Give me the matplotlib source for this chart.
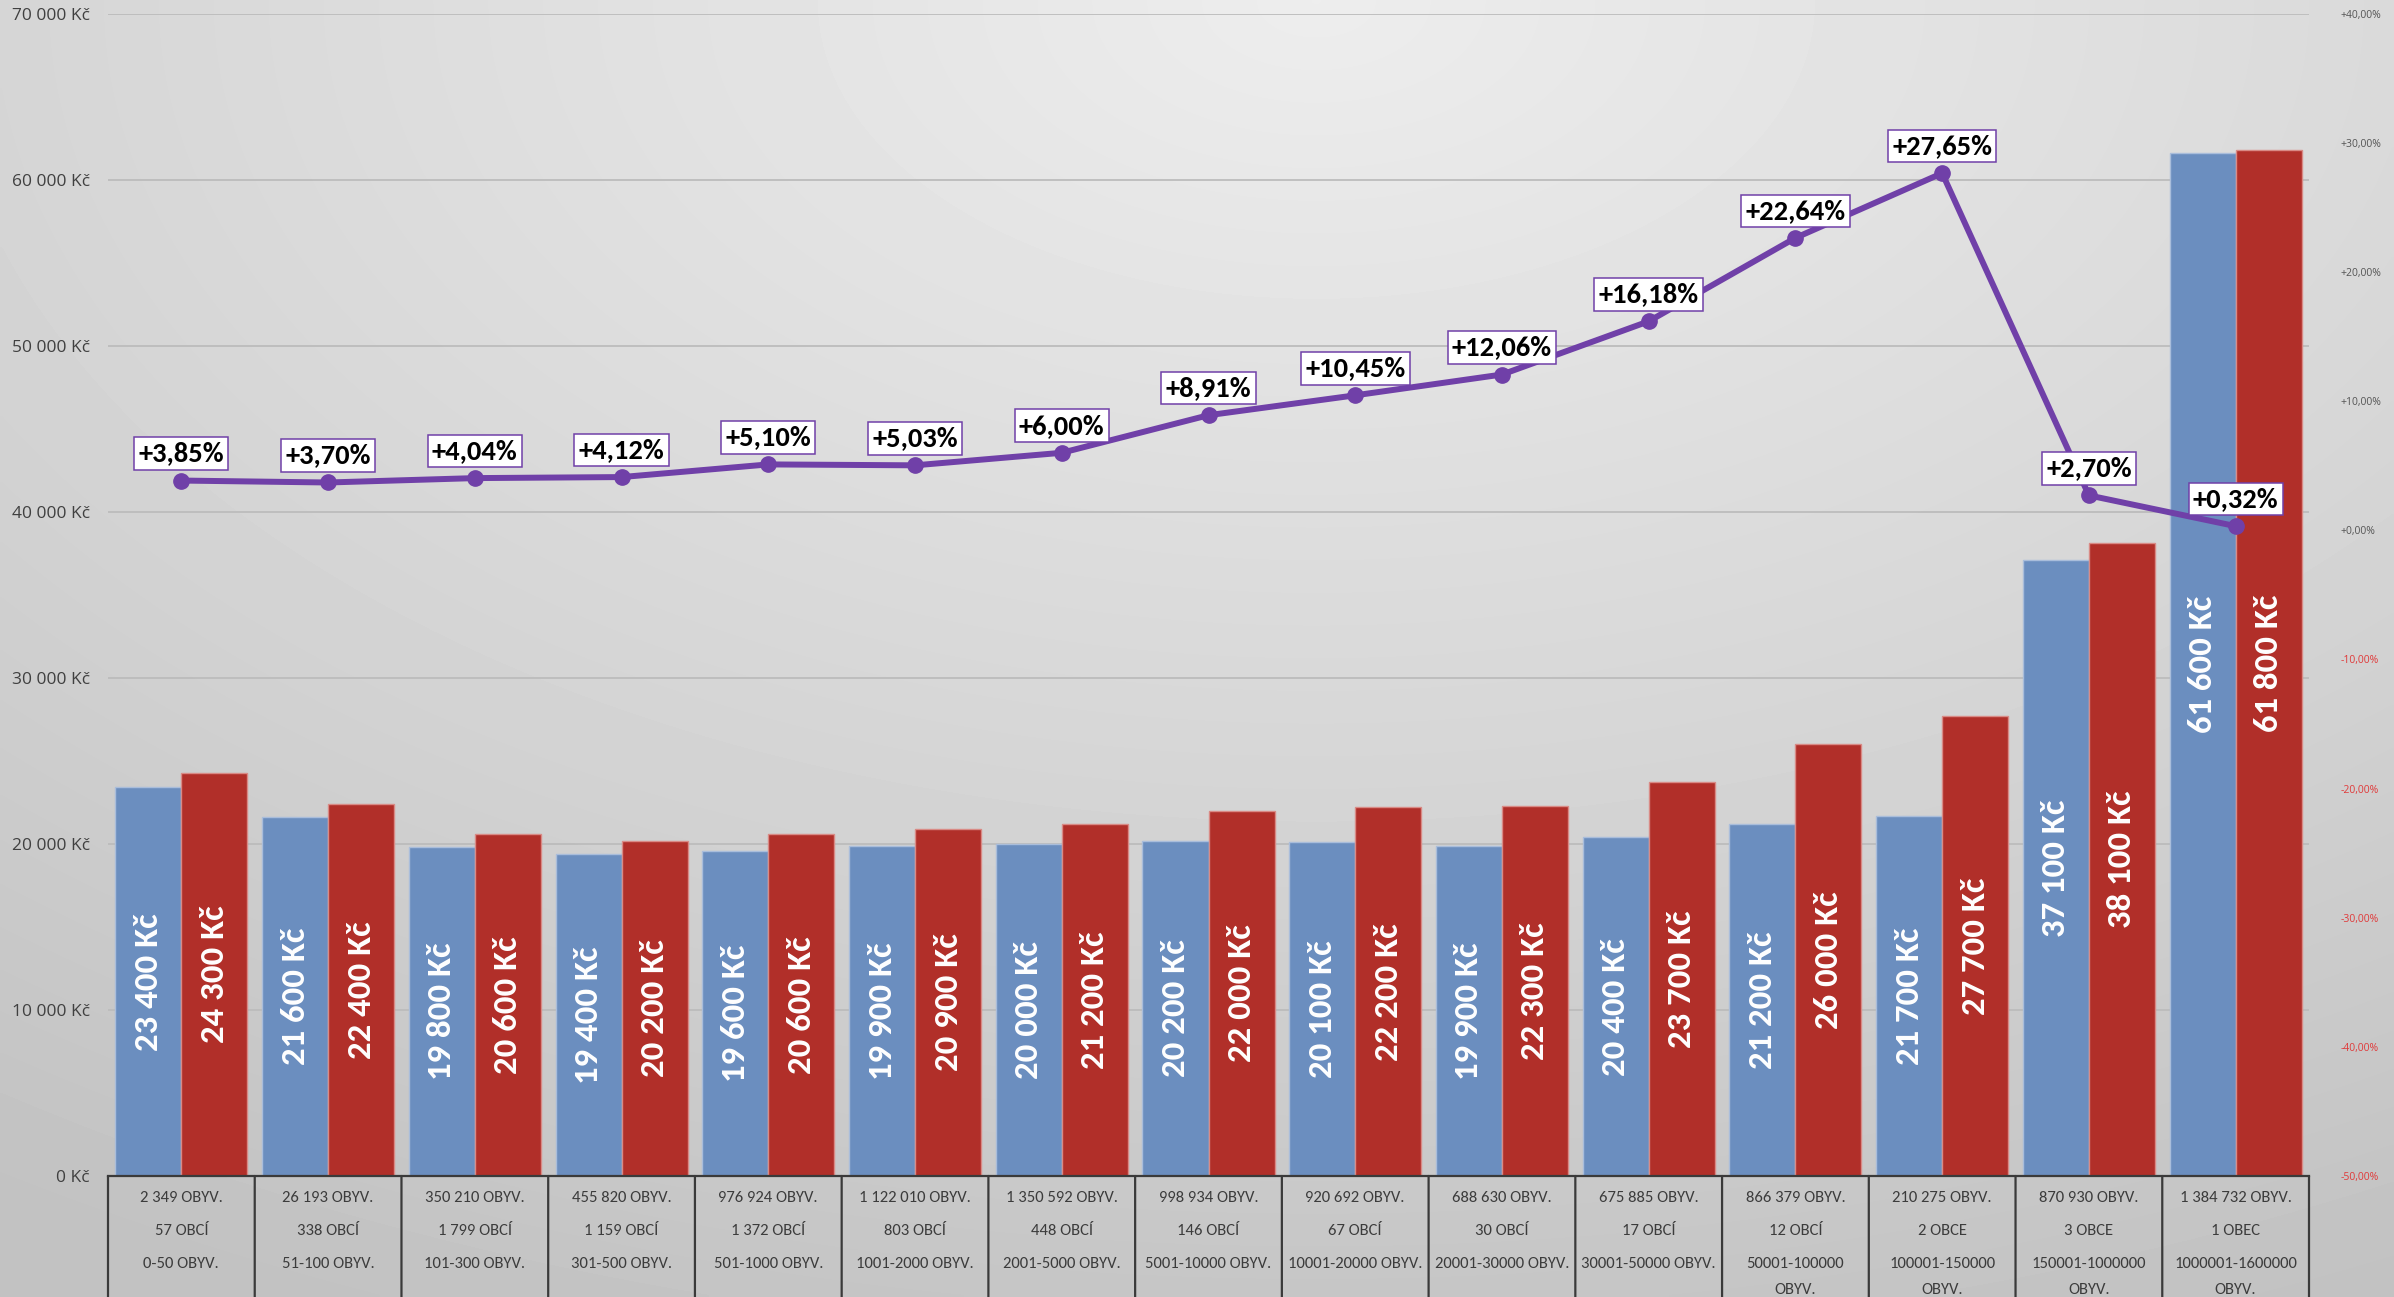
import matplotlib
matplotlib.use("Agg")
import matplotlib.pyplot as plt
import numpy as np
from matplotlib.ticker import FixedLocator, FuncFormatter

# ---------------- data ----------------
salary_before = [23400, 21600, 19800, 19400, 19600, 19900, 20000, 20200, 20100, 19900, 20400, 21200, 21700, 37100, 61600]
salary_after = [24300, 22400, 20600, 20200, 20600, 20900, 21200, 22000, 22200, 22300, 23700, 26000, 27700, 38100, 61800]
growth_pct = [3.85, 3.70, 4.04, 4.12, 5.10, 5.03, 6.00, 8.91, 10.45, 12.06, 16.18, 22.64, 27.65, 2.70, 0.32]

population = ["2 349 OBYV.", "26 193 OBYV.", "350 210 OBYV.", "455 820 OBYV.", "976 924 OBYV.",
              "1 122 010 OBYV.", "1 350 592 OBYV.", "998 934 OBYV.", "920 692 OBYV.", "688 630 OBYV.",
              "675 885 OBYV.", "866 379 OBYV.", "210 275 OBYV.", "870 930 OBYV.", "1 384 732 OBYV."]
municipalities = ["57 OBCÍ", "338 OBCÍ", "1 799 OBCÍ", "1 159 OBCÍ", "1 372 OBCÍ", "803 OBCÍ", "448 OBCÍ",
                  "146 OBCÍ", "67 OBCÍ", "30 OBCÍ", "17 OBCÍ", "12 OBCÍ", "2 OBCE", "3 OBCE", "1 OBEC"]
size_ranges = ["0-50 OBYV.", "51-100 OBYV.", "101-300 OBYV.", "301-500 OBYV.", "501-1000 OBYV.",
               "1001-2000 OBYV.", "2001-5000 OBYV.", "5001-10000 OBYV.", "10001-20000 OBYV.",
               "20001-30000 OBYV.", "30001-50000 OBYV.", "50001-100000\nOBYV.", "100001-150000\nOBYV.",
               "150001-1000000\nOBYV.", "1000001-1600000\nOBYV."]

left_ticks = [0, 10000, 20000, 30000, 40000, 50000, 60000, 70000]
right_ticks = [-50, -40, -30, -20, -10, 0, 10, 20, 30, 40]

# ---------------- figure ----------------
W, H, DPI = 2394, 1297, 100
fig = plt.figure(figsize=(W / DPI, H / DPI), dpi=DPI)

# background radial gradient
bg = fig.add_axes([0, 0, 1, 1], zorder=-5)
yy, xx = np.mgrid[0:1:300j, 0:1:560j]
r = np.sqrt(((xx - 0.55) / 1.0) ** 2 + ((yy - 0.0) / 1.1) ** 2)
val = 0.93 - 0.17 * np.clip(r, 0, 1.0)
bg.imshow(val, cmap="gray", vmin=0, vmax=1, aspect="auto", extent=[0, 1, 0, 1],
          origin="upper", interpolation="bilinear")
bg.set_axis_off()

ax_left = 108 / W
ax_right = 2309 / W
y0_px = 1176
ytop_px = 13.7
ax = fig.add_axes([ax_left, (H - y0_px) / H, ax_right - ax_left, (y0_px - ytop_px) / H])
ax.patch.set_alpha(0)

n = len(salary_before)
x = np.arange(n)
bw = 0.45
blue = "#6b8ebf"
red = "#b12f29"

b1 = ax.bar(x - bw / 2, salary_before, width=bw, color=blue, edgecolor="#a9bddb", linewidth=1.0, zorder=3)
b2 = ax.bar(x + bw / 2, salary_after, width=bw, color=red, edgecolor="#d98a85", linewidth=1.0, zorder=3)

def kc(v):
    return f"{v:,}".replace(",", " ") + " Kč"

CAL = ["Carlito", "DejaVu Sans"]
lab_font = dict(family=CAL, weight="bold", size=25, color="white")
ax.bar_label(b1, labels=[kc(v) for v in salary_before], label_type="center", rotation=90, **lab_font)
ax.bar_label(b2, labels=[kc(v) for v in salary_after], label_type="center", rotation=90, **lab_font)

ax.set_xlim(-0.5, n - 0.5)
ax.set_ylim(0, 70000)
ax.yaxis.set_major_locator(FixedLocator(left_ticks))
ax.yaxis.set_major_formatter(FuncFormatter(lambda v, p: kc(int(v))))
ax.tick_params(axis="y", length=0, pad=13, labelsize=12.5, labelcolor="#404040")
for lbl in ax.get_yticklabels():
    lbl.set_family(["Open Sans", "DejaVu Sans"])
ax.set_xticks([])
for s in ax.spines.values():
    s.set_visible(False)
ax.grid(axis="y", color="#bcbcbc", linewidth=1.3, zorder=0)
ax.set_axisbelow(True)

# table below axis
tcol = "#3a3a3a"
ax.plot([-0.5, n - 0.5], [0, 0], color=tcol, lw=1.6, clip_on=False, zorder=4)
for b in np.arange(-0.5, n, 1.0):
    ax.annotate("", xy=(b, 0), xycoords=("data", "axes fraction"),
                xytext=(0, -200), textcoords="offset points",
                arrowprops=dict(arrowstyle="-", color=tcol, lw=1.6, shrinkA=0, shrinkB=0))
tfont = dict(family=CAL, size=12, color="#3c3c3c", ha="center", va="center")
PT = 0.72  # points per pixel at 100 dpi
for i in range(n):
    rows = [population[i], municipalities[i]] + size_ranges[i].split("\n")
    offs = [22, 55, 88, 114]
    for txt, off in zip(rows, offs):
        ax.annotate(txt, xy=(i, 0), xycoords=("data", "axes fraction"),
                    xytext=(0, -off * PT), textcoords="offset points", **tfont)

# secondary axis with growth line
ax2 = ax.twinx()
ax2.set_ylim(-50, 40)
ax2.set_xlim(-0.5, n - 0.5)
ax2.yaxis.set_major_locator(FixedLocator(right_ticks))

def pct_fmt(v, p):
    return f"{v:+.2f}%".replace(".", ",")
ax2.yaxis.set_major_formatter(FuncFormatter(pct_fmt))
ax2.tick_params(axis="y", length=0, pad=23, labelsize=7.5)
for t, lbl in zip(right_ticks, ax2.get_yticklabels()):
    lbl.set_color("#e03a3a" if t < 0 else "#555555")
    lbl.set_family(["Open Sans", "DejaVu Sans"])
for s in ax2.spines.values():
    s.set_visible(False)

purple = "#7040a8"
ax2.plot(x, growth_pct, color=purple, lw=4.3, marker="o", ms=11, zorder=5)
for i, p in enumerate(growth_pct):
    ax2.annotate(f"+{p:.2f}%".replace(".", ","), xy=(i, p), xytext=(0, 19.5),
                 textcoords="offset points", ha="center", va="center",
                 family=CAL, weight="bold", size=20.5, color="black",
                 bbox=dict(boxstyle="square,pad=0.15", fc="white", ec=purple, lw=1.1), zorder=6)

fig.savefig("out.png", dpi=DPI)
